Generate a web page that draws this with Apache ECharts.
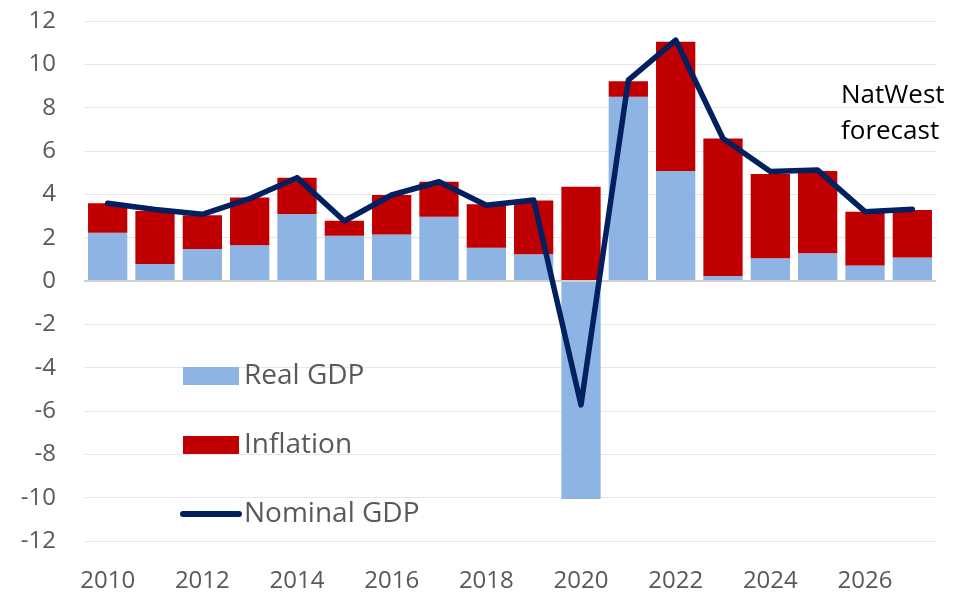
<!DOCTYPE html>
<html>
<head>
<meta charset="utf-8">
<script src="https://cdn.jsdelivr.net/npm/echarts@6/dist/echarts.min.js"></script>
<style>
  html, body { margin: 0; padding: 0; background: #fff; }
  #chart { width: 953px; height: 594px; }
</style>
</head>
<body>
<div id="chart"></div>
<script>
// data (% y/y)
const years = ['2010', '2011', '2012', '2013', '2014', '2015', '2016', '2017', '2018',
  '2019', '2020', '2021', '2022', '2023', '2024', '2025', '2026', '2027']
const realGdp = [2.23, 0.78, 1.48, 1.65, 3.09, 2.09, 2.15, 2.97, 1.54,
  1.23, -10.06, 8.5, 5.08, 0.23, 1.05, 1.28, 0.72, 1.09]
const inflation = [1.36, 2.45, 1.55, 2.2, 1.68, 0.69, 1.82, 1.61, 2.0,
  2.48, 4.35, 0.72, 5.96, 6.35, 3.89, 3.8, 2.48, 2.19]
const nominalGdp = [3.59, 3.3, 3.08, 3.8, 4.77, 2.77, 3.97, 4.58, 3.5,
  3.74, -5.72, 9.27, 11.12, 6.58, 5.05, 5.12, 3.2, 3.31]

const textColor = '#595959'
const font = 'Open Sans'

const chart = echarts.init(document.getElementById('chart'))

chart.setOption({
  animation: false,
  grid: { left: 84, right: 17, top: 21, bottom: 53 },
  legend: {
    orient: 'vertical',
    left: 175,
    top: 357,
    itemWidth: 56,
    itemHeight: 18,
    itemGap: 41,
    textStyle: { fontFamily: font, fontSize: 28, color: textColor, padding: [0, 0, 0, 0] },
    data: [
      { name: 'Real GDP', icon: 'rect' },
      { name: 'Inflation', icon: 'rect' },
      {
        name: 'Nominal GDP',
        itemStyle: { opacity: 0 },
        lineStyle: { width: 6, cap: 'round' }
      }
    ]
  },
  xAxis: {
    type: 'category',
    data: years,
    axisLine: { show: false },
    axisTick: { show: false },
    axisLabel: {
      interval: 1,
      margin: 28,
      fontFamily: font,
      fontSize: 24,
      color: textColor
    }
  },
  yAxis: {
    type: 'value',
    min: -12,
    max: 12,
    interval: 2,
    axisLine: { show: false },
    axisTick: { show: false },
    axisLabel: { margin: 28, fontFamily: font, fontSize: 24, color: textColor },
    splitLine: { lineStyle: { color: '#e6e6e6', width: 1 } }
  },
  graphic: [{
    type: 'text',
    left: 841,
    top: 78,
    style: {
      text: 'NatWest\nforecast',
      fontFamily: font,
      fontSize: 26,
      lineHeight: 36,
      fill: '#000'
    }
  }],
  series: [
    {
      name: 'Real GDP',
      type: 'bar',
      stack: 'gdp',
      barCategoryGap: '17%',
      itemStyle: { color: '#8EB4E3' },
      data: realGdp,
      markLine: {
        silent: true,
        symbol: 'none',
        label: { show: false },
        lineStyle: { color: '#d0d0d0', type: 'solid', width: 2 },
        data: [{ yAxis: 0 }]
      }
    },
    {
      name: 'Inflation',
      type: 'bar',
      stack: 'gdp',
      itemStyle: { color: '#C00000' },
      data: inflation
    },
    {
      name: 'Nominal GDP',
      type: 'line',
      symbol: 'none',
      lineStyle: { color: '#002060', width: 5.5, cap: 'round', join: 'round' },
      itemStyle: { color: '#002060' },
      data: nominalGdp,
      z: 5
    }
  ]
})
</script>
</body>
</html>
